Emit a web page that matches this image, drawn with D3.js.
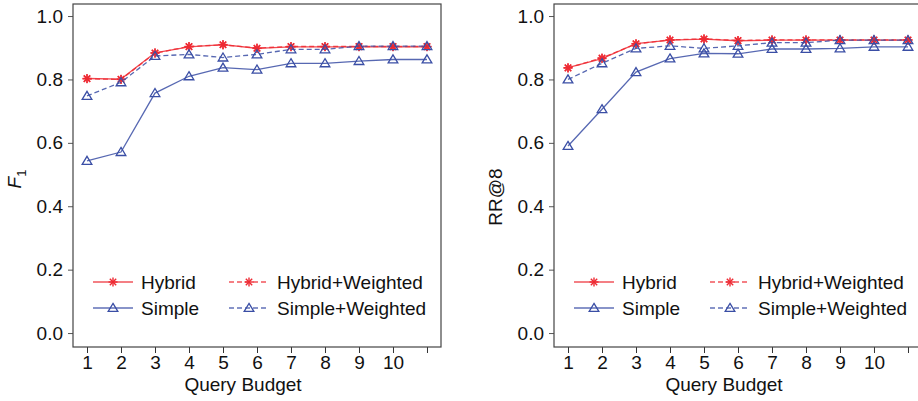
<!DOCTYPE html>
<html>
<head>
<meta charset="utf-8">
<script src="https://cdn.jsdelivr.net/npm/d3@7"></script>
<style>
  body { margin: 0; background: #fff; }
  svg { font-family: "Liberation Sans", Arial, sans-serif; }
</style>
</head>
<body>
<div class="canvas"></div>
<script>
// query budgets on the x axis (11th tick has no label)
const budgets = [1, 2, 3, 4, 5, 6, 7, 8, 9, 10, 11];
const xTickLabels = ["1", "2", "3", "4", "5", "6", "7", "8", "9", "10", ""];
const yTicks = [0.0, 0.2, 0.4, 0.6, 0.8, 1.0];

// left panel: F1
const f1Hybrid   = [0.803, 0.801, 0.884, 0.903, 0.910, 0.898, 0.903, 0.903, 0.903, 0.903, 0.903];
const f1HybridW  = [0.802, 0.800, 0.883, 0.904, 0.909, 0.899, 0.904, 0.904, 0.904, 0.904, 0.904];
const f1Simple   = [0.543, 0.571, 0.757, 0.810, 0.837, 0.831, 0.851, 0.851, 0.858, 0.863, 0.863];
const f1SimpleW  = [0.748, 0.791, 0.874, 0.879, 0.869, 0.879, 0.895, 0.895, 0.905, 0.905, 0.905];

// right panel: RR@8
const rrHybrid   = [0.837, 0.866, 0.913, 0.924, 0.927, 0.922, 0.924, 0.924, 0.924, 0.924, 0.924];
const rrHybridW  = [0.836, 0.868, 0.912, 0.925, 0.928, 0.923, 0.925, 0.925, 0.925, 0.925, 0.925];
const rrSimple   = [0.590, 0.706, 0.823, 0.866, 0.882, 0.881, 0.896, 0.896, 0.898, 0.903, 0.903];
const rrSimpleW  = [0.800, 0.851, 0.898, 0.906, 0.898, 0.906, 0.916, 0.916, 0.924, 0.924, 0.924];

const seriesNames = ["Hybrid", "Hybrid+Weighted", "Simple", "Simple+Weighted"];

const RED = "#ee2a33";
const BLUE = "#3a4ea5";

const svg = d3.select('.canvas')
    .append('svg')
    .attr('width', 918)
    .attr('height', 401);

const boxW = 368, boxH = 343;

const x = d3.scaleLinear().domain([0.588, 11.412]).range([0, boxW]);
const y = d3.scaleLinear().domain([-0.044, 1.038]).range([boxH, 0]);

// style per series: colour, dashed, marker
const styles = {
    "Hybrid":          {color: RED,  dash: null,  marker: 'star'},
    "Hybrid+Weighted": {color: RED,  dash: '5,3', marker: 'star'},
    "Simple":          {color: BLUE, dash: null,  marker: 'tri'},
    "Simple+Weighted": {color: BLUE, dash: '5,3', marker: 'tri'}
};

function drawMarker(g, type, color) {
    if (type === 'star') {
        const r = 4.5;
        [0, 45, 90, 135].forEach(a => {
            const rad = a * Math.PI / 180;
            g.append('line')
                .attr('x1', -r * Math.cos(rad)).attr('y1', -r * Math.sin(rad))
                .attr('x2', r * Math.cos(rad)).attr('y2', r * Math.sin(rad))
                .attr('stroke', color).attr('stroke-width', 1.4);
        });
    } else {
        const s = 4.6;
        g.append('path')
            .attr('d', `M0,${-s} L${s * 1.05},${s * 0.75} L${-s * 1.05},${s * 0.75} Z`)
            .attr('fill', 'none')
            .attr('stroke', color).attr('stroke-width', 1.3);
    }
}

function drawPanel(left, top, yLabel, data) {
    const graph = svg.append('g')
        .attr('transform', `translate(${left}, ${top})`);

    // y axis
    const yAxis = d3.axisLeft(y)
        .tickValues(yTicks)
        .tickFormat(d3.format('.1f'))
        .tickSize(5)
        .tickPadding(5);
    const yg = graph.append('g').call(yAxis);
    yg.select('.domain').remove();
    yg.selectAll('line').attr('stroke', '#555');
    yg.selectAll('text').attr('font-size', 19).attr('fill', '#111')
        .attr('font-family', '"Liberation Sans", Arial, sans-serif');

    // x axis
    const xAxis = d3.axisBottom(x)
        .tickValues(budgets)
        .tickFormat((d, i) => xTickLabels[i])
        .tickSize(6)
        .tickPadding(3);
    const xg = graph.append('g')
        .attr('transform', `translate(0, ${boxH})`)
        .call(xAxis);
    xg.select('.domain').remove();
    xg.selectAll('line').attr('stroke', '#333');
    xg.selectAll('text').attr('font-size', 19).attr('fill', '#111')
        .attr('font-family', '"Liberation Sans", Arial, sans-serif');

    // frame
    graph.append('rect')
        .attr('x', 0).attr('y', 0)
        .attr('width', boxW).attr('height', boxH)
        .attr('fill', 'none')
        .attr('stroke', '#444')
        .attr('stroke-width', 1.2);

    // axis titles
    graph.append('text')
        .attr('x', boxW / 2 - 14)
        .attr('y', boxH + 44)
        .attr('text-anchor', 'middle')
        .attr('font-size', 19)
        .attr('fill', '#111')
        .text('Query Budget');

    const yl = graph.append('text')
        .attr('transform', `translate(${-52}, ${yLabel === 'F1' ? 175 : 193}) rotate(-90)`)
        .attr('text-anchor', 'middle')
        .attr('font-size', 19)
        .attr('fill', '#111');
    if (yLabel === 'F1') {
        yl.append('tspan').attr('font-style', 'italic').text('F');
        yl.append('tspan').attr('font-size', 13).attr('dy', 5).text('1');
    } else {
        yl.text(yLabel);
    }

    const line = d3.line()
        .x((d, i) => x(budgets[i]))
        .y(d => y(d));

    // red first, blue drawn on top
    seriesNames.forEach(name => {
        const st = styles[name];
        const vals = data[name];
        graph.append('path')
            .datum(vals)
            .attr('d', line)
            .attr('fill', 'none')
            .attr('stroke', st.color)
            .attr('stroke-opacity', 0.85)
            .attr('stroke-width', 1.3)
            .attr('stroke-dasharray', st.dash);
        vals.forEach((v, i) => {
            const m = graph.append('g')
                .attr('transform', `translate(${x(budgets[i])}, ${y(v)})`);
            drawMarker(m, st.marker, st.color);
        });
    });

    // legend
    const legendPos = [
        {name: "Hybrid", dx: 20, dy: 278},
        {name: "Hybrid+Weighted", dx: 156, dy: 278},
        {name: "Simple", dx: 20, dy: 304},
        {name: "Simple+Weighted", dx: 156, dy: 304}
    ];
    legendPos.forEach(p => {
        const st = styles[p.name];
        const lg = graph.append('g').attr('transform', `translate(${p.dx}, ${p.dy})`);
        lg.append('line')
            .attr('x1', 0).attr('x2', 40).attr('y1', 0).attr('y2', 0)
            .attr('stroke', st.color)
            .attr('stroke-opacity', 0.8)
            .attr('stroke-width', 1.3)
            .attr('stroke-dasharray', st.dash);
        const m = lg.append('g').attr('transform', 'translate(20, 0)');
        drawMarker(m, st.marker, st.color);
        lg.append('text')
            .attr('x', 48).attr('y', 7)
            .attr('font-size', 19)
            .attr('fill', '#111')
            .text(p.name);
    });
}

drawPanel(73, 4, 'F1', {
    "Hybrid": f1Hybrid,
    "Hybrid+Weighted": f1HybridW,
    "Simple": f1Simple,
    "Simple+Weighted": f1SimpleW
});

drawPanel(554, 4, 'RR@8', {
    "Hybrid": rrHybrid,
    "Hybrid+Weighted": rrHybridW,
    "Simple": rrSimple,
    "Simple+Weighted": rrSimpleW
});
</script>
</body>
</html>
